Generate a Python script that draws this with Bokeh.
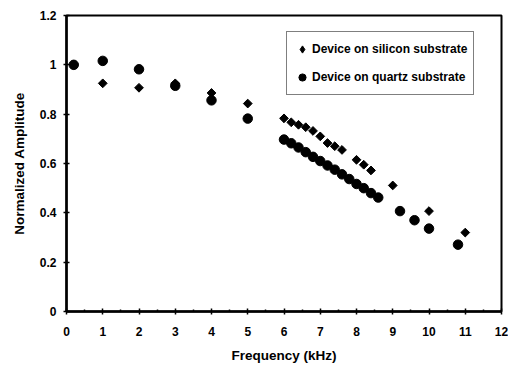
import math
from bokeh.plotting import figure
from bokeh.models import Range1d, FixedTicker, Legend, LegendItem
from bokeh.embed import file_html
from bokeh.resources import INLINE

# Device on silicon substrate (diamonds)
si_freq = [0.2, 1, 2, 3, 4, 5, 6.0, 6.2, 6.4, 6.6, 6.8, 7.0, 7.2, 7.4, 7.6, 8.0, 8.2, 8.4, 9.0, 10, 11]
si_amp = [1.0, 0.925, 0.907, 0.925, 0.886, 0.843, 0.783, 0.767, 0.757, 0.747, 0.732, 0.71, 0.683, 0.670, 0.655, 0.615, 0.595, 0.572, 0.511, 0.407, 0.32]

# Device on quartz substrate (circles)
qz_freq = [0.2, 1, 2, 3, 4, 5, 6.0, 6.2, 6.4, 6.6, 6.8, 7.0, 7.2, 7.4, 7.6, 7.8, 8.0, 8.2, 8.4, 8.6, 9.2, 9.6, 10, 10.8]
qz_amp = [1.0, 1.016, 0.982, 0.915, 0.856, 0.782, 0.697, 0.682, 0.665, 0.646, 0.627, 0.61, 0.592, 0.575, 0.556, 0.537, 0.517, 0.5, 0.48, 0.462, 0.407, 0.37, 0.336, 0.271]

x_ticks = [0, 1, 2, 3, 4, 5, 6, 7, 8, 9, 10, 11, 12]
y_ticks = [0, 0.2, 0.4, 0.6, 0.8, 1, 1.2]
y_labels = {0: "0", 0.2: "0.2", 0.4: "0.4", 0.6: "0.6", 0.8: "0.8", 1: "1", 1.2: "1.2"}

FONT = "Liberation Sans"

p = figure(width=508, height=365, output_backend="svg", toolbar_location=None,
           x_range=Range1d(0, 12), y_range=Range1d(0, 1.2),
           min_border_left=66, min_border_right=7, min_border_top=15, min_border_bottom=54)

p.xgrid.visible = False
p.ygrid.visible = False
p.outline_line_color = "black"
p.outline_line_width = 2
p.background_fill_color = "white"
p.border_fill_color = "white"

for ax in (p.xaxis[0], p.yaxis[0]):
    ax.axis_line_width = 2.5
    ax.axis_line_color = "black"
    ax.major_tick_line_color = "black"
    ax.major_tick_line_width = 1.5
    ax.major_tick_in = 3
    ax.major_tick_out = 3
    ax.major_label_text_font = FONT
    ax.major_label_text_font_style = "bold"
    ax.major_label_text_font_size = "12px"
    ax.major_label_text_color = "black"
    ax.axis_label_text_font = FONT
    ax.axis_label_text_font_style = "bold"
    ax.axis_label_text_font_size = "13.5px"
    ax.axis_label_text_color = "black"

p.xaxis.ticker = FixedTicker(ticks=x_ticks, minor_ticks=[t + 0.5 for t in x_ticks[:-1]])
p.xaxis.minor_tick_in = 2
p.xaxis.minor_tick_out = 0
p.xaxis.minor_tick_line_color = "black"
p.xaxis.minor_tick_line_width = 1.5
p.xaxis.major_label_standoff = 12
p.xaxis.axis_label = "Frequency (kHz)"
p.xaxis.axis_label_standoff = 9

p.yaxis.ticker = FixedTicker(ticks=y_ticks)
p.yaxis.minor_tick_line_color = None
p.yaxis.major_label_overrides = y_labels
p.yaxis.major_label_standoff = 7
p.yaxis.axis_label = "Normalized Amplitude"
p.yaxis.axis_label_standoff = 10

# first silicon point drawn as a plain diamond (hidden under the circle) - used as legend key
r_si_key = p.scatter(si_freq[:1], si_amp[:1], marker="diamond", size=7,
                     fill_color="black", line_color="black")
r_si = p.scatter(si_freq, si_amp, marker="square", angle=math.pi / 4, size=6.2,
                 fill_color="black", line_color="black")
r_qz = p.scatter(qz_freq, qz_amp, marker="circle", size=9.5,
                 fill_color="black", line_color="black")

legend = Legend(items=[LegendItem(label="Device on silicon substrate", renderers=[r_si_key]),
                       LegendItem(label="Device on quartz substrate", renderers=[r_qz])],
                location=(220, 216))
legend.label_text_font = FONT
legend.label_text_font_style = "bold"
legend.label_text_font_size = "12px"
legend.label_text_color = "black"
legend.border_line_color = "black"
legend.border_line_width = 1.5
legend.background_fill_alpha = 1
legend.padding = 6
legend.spacing = 6
legend.label_height = 22
legend.glyph_height = 22
legend.glyph_width = 18
legend.label_standoff = 1
legend.margin = 0
p.add_layout(legend)

open("out.html", "w").write(file_html(p, INLINE))
